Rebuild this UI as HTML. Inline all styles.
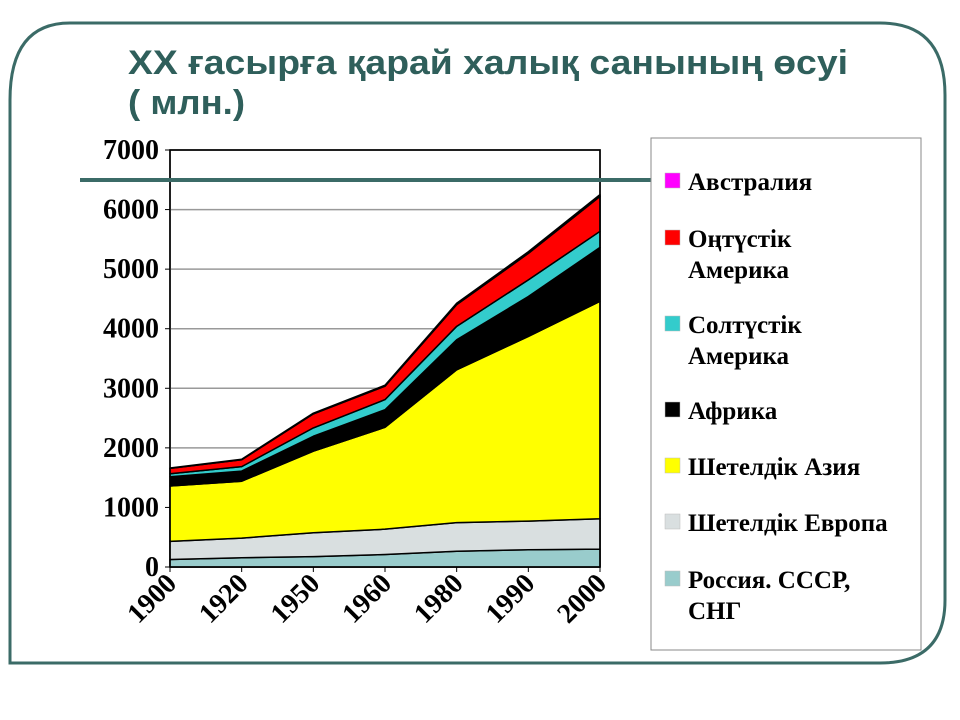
<!DOCTYPE html>
<html><head><meta charset="utf-8"><style>
body{margin:0;background:#fff;}
svg{display:block;}
.t{font-family:"Liberation Sans",sans-serif;font-weight:bold;fill:#2f5f5b;font-size:34px;}
.ax{font-family:"Liberation Serif",serif;font-weight:bold;font-size:28px;fill:#000;}
.lg{font-family:"Liberation Serif",serif;font-weight:bold;font-size:25px;fill:#000;}
</style></head><body>
<svg id="s" width="960" height="720" xmlns="http://www.w3.org/2000/svg">
<path d="M70,23 H880 Q945,23 945,95 V600 Q945,663 880,663 H10 V100 Q10,23 70,23 Z" fill="none" stroke="#3b6b67" stroke-width="3"/>
<text class="t" x="128" y="74" textLength="720" lengthAdjust="spacingAndGlyphs">ХХ ғасырға қарай халық санының өсуі</text>
<text class="t" x="128" y="114" textLength="117" lengthAdjust="spacingAndGlyphs">( млн.)</text>
<g id="plot"></g>
<rect x="80" y="178" width="572" height="4" fill="#3b6b67"/>
<rect x="651" y="138" width="270" height="512" fill="#fff" stroke="#888"/>
<g id="legend"></g>
</svg>
<script>
const categories=["1900","1920","1950","1960","1980","1990","2000"];
const russia=[125,155,175,210,265,290,300];
const europe=[305,330,400,425,480,480,510];
const asia=[930,955,1370,1710,2565,3100,3650];
const africa=[155,170,250,295,505,670,905];
const northAmerica=[50,75,140,170,225,280,270];
const southAmerica=[90,115,235,225,365,445,585];
const australia=[6,9,12,16,23,27,31];
const yTicks=[0,1000,2000,3000,4000,5000,6000,7000];
const series=[
 {name:"russia",vals:russia,color:"#99cccc"},
 {name:"europe",vals:europe,color:"#d9dfe0"},
 {name:"asia",vals:asia,color:"#ffff00"},
 {name:"africa",vals:africa,color:"#000000"},
 {name:"north-america",vals:northAmerica,color:"#33cccc"},
 {name:"south-america",vals:southAmerica,color:"#ff0000"},
 {name:"australia",vals:australia,color:"#ff00ff"}
];
const NS="http://www.w3.org/2000/svg";
const X0=170,X1=600,Y0=567,Y1=150,YMAX=7000;
const xs=i=>X0+(X1-X0)*i/(categories.length-1);
const ys=v=>Y0-(Y0-Y1)*v/YMAX;
const plot=document.getElementById('plot');
function mk(t,a){const e=document.createElementNS(NS,t);for(const k in a)e.setAttribute(k,a[k]);return e;}
const bg=mk('rect',{x:X0,y:Y1,width:X1-X0,height:Y0-Y1,fill:'#fff',stroke:'#000','stroke-width':1.5});


plot.appendChild(bg);
yTicks.forEach(v=>{
 if(v>0&&v<YMAX){const g=mk('line',{x1:X0,x2:X1,y1:ys(v),y2:ys(v),stroke:'#999','stroke-width':1.5});
 
 
 plot.appendChild(g);}
 const tk=mk('line',{x1:X0-5,x2:X0,y1:ys(v),y2:ys(v),stroke:'#000'});
 
 
 plot.appendChild(tk);
 const t=mk('text',{x:X0-11,y:ys(v)+9,'text-anchor':'end','class':'ax'});
 t.textContent=v;
 
 
 plot.appendChild(t);
});
let cum=categories.map(()=>0);
series.forEach(s=>{
 const lower=cum.slice();
 cum=cum.map((c,i)=>c+s.vals[i]);
 let d='M'+categories.map((_,i)=>xs(i)+','+ys(cum[i])).join(' L');
 for(let i=categories.length-1;i>=0;i--)d+=' L'+xs(i)+','+ys(lower[i]);
 d+=' Z';
 const p=mk('path',{d:d,fill:s.color,stroke:'#000','stroke-width':1.5,'stroke-linejoin':'round'});
 
 
 plot.appendChild(p);
});
const frame=mk('rect',{x:X0,y:Y1,width:X1-X0,height:Y0-Y1,fill:'none',stroke:'#000','stroke-width':1.5});


plot.appendChild(frame);
categories.forEach((c,i)=>{
 const tk=mk('line',{x1:xs(i),x2:xs(i),y1:Y0,y2:Y0+5,stroke:'#000'});
 
 
 plot.appendChild(tk);
 const t=mk('text',{'class':'ax','text-anchor':'end',transform:'translate('+(xs(i)+8)+','+(Y0+18)+') rotate(-45)','font-size':'31'});
 t.textContent=c;
 
 
 plot.appendChild(t);
});
const legendItems=[
 {lines:["Австралия"],color:"#ff00ff",y:181},
 {lines:["Оңтүстік","Америка"],color:"#ff0000",y:238},
 {lines:["Солтүстік","Америка"],color:"#33cccc",y:324},
 {lines:["Африка"],color:"#000000",y:410},
 {lines:["Шетелдік Азия"],color:"#ffff00",y:466},
 {lines:["Шетелдік Европа"],color:"#d9dfe0",y:522},
 {lines:["Россия. СССР,","СНГ"],color:"#99cccc",y:579}
];
const lg=document.getElementById('legend');
legendItems.forEach(it=>{
 const g=mk('g',{});
 
 
 const r=mk('rect',{x:665,y:it.y-8,width:15,height:15,fill:it.color,stroke:'#bbb','stroke-width':0.5});
 
 
 g.appendChild(r);
 it.lines.forEach((l,j)=>{
  const t=mk('text',{x:688,y:it.y+9+j*31,'class':'lg'});
  t.textContent=l;
  
  
  g.appendChild(t);
 });
 lg.appendChild(g);
});
</script>
</body></html>
